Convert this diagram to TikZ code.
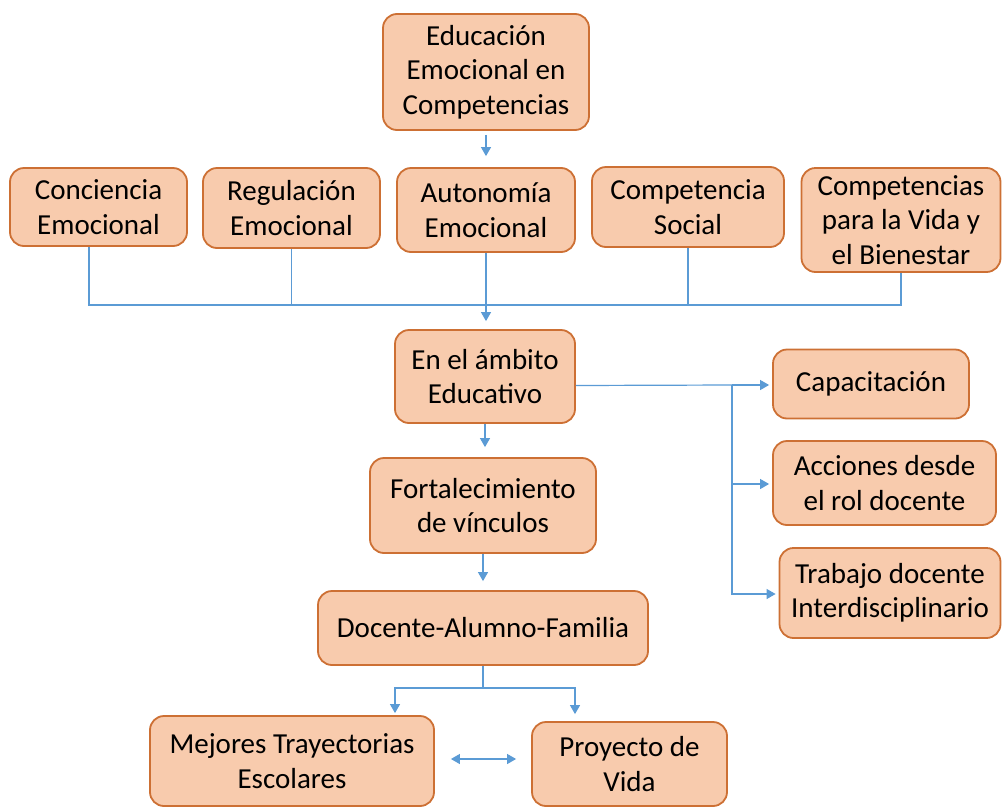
\documentclass[tikz,border=0pt]{standalone}
\usepackage{fontspec}
\setmainfont{Carlito}
\usetikzlibrary{arrows.meta}

\definecolor{boxfill}{HTML}{F8CBAD}
\definecolor{boxline}{RGB}{205,112,52}
\definecolor{linkblue}{HTML}{5B9BD5}

\tikzset{
	tema/.style={draw=boxline, fill=boxfill, line width=0.9pt, rounded corners=7pt,
		align=center, inner sep=0pt, font=\fontsize{14.5}{17.2}\selectfont},
	link/.style={draw=linkblue, line width=0.6pt},
	flecha/.style={link, -{Triangle[width=5pt,length=4.5pt]}},
	flechas/.style={link, {Triangle[width=5pt,length=4.5pt]}-{Triangle[width=5pt,length=4.5pt]}}
}

\begin{document}
\begin{tikzpicture}[x=0.5pt, y=-0.5pt]
			\useasboundingbox (0,0) rectangle (1002,809);
			
			\node[tema, minimum width=103pt, minimum height=58pt] (edu) at (486,72) {Educación\\Emocional en\\Competencias};
			
			\node[tema, minimum width=88.5pt, minimum height=39pt] (conc) at (98.5,207) {Conciencia\\Emocional};
			\node[tema, minimum width=88.5pt, minimum height=40pt] (regu) at (291.5,208) {Regulación\\Emocional};
			\node[tema, minimum width=89pt, minimum height=42pt] (auto) at (486,210) {Autonomía\\Emocional};
			\node[tema, minimum width=96pt, minimum height=40pt] (soc) at (688,207) {Competencia\\Social};
			\node[tema, minimum width=99.5pt, minimum height=52pt] (vida) at (901,220) {Competencias\\para la Vida y\\el Bienestar};
			
			\node[tema, minimum width=90pt, minimum height=46.5pt] (amb) at (485,376.5) {En el ámbito\\Educativo};
			\node[tema, minimum width=98pt, minimum height=34.5pt] (capa) at (871,384) {Capacitación};
			\node[tema, minimum width=111.5pt, minimum height=42pt] (acc) at (884.5,483) {Acciones desde\\el rol docente};
			\node[tema, minimum width=110.5pt, minimum height=45pt] (trab) at (890,593) {Trabajo docente\\Interdisciplinario};
			
			\node[tema, minimum width=113pt, minimum height=47.5pt] (fort) at (483,505.5) {Fortalecimiento\\de vínculos};
			\node[tema, minimum width=165pt, minimum height=37pt] (doc) at (483,628) {Docente-Alumno-Familia};
			
			\node[tema, minimum width=142pt, minimum height=45pt] (mej) at (292,761) {Mejores Trayectorias\\Escolares};
			\node[tema, minimum width=97.5pt, minimum height=42pt] (proy) at (629.5,764) {Proyecto de\\Vida};
			
			\coordinate (barra) at (486,305);
			\coordinate (rama) at (732,385);
			\coordinate (nudo) at (483,688);
			
			\draw[flecha, shorten <=2pt, shorten >=5.5pt] (edu) -- (auto);
			
			\draw[link] ([xshift=-4.75pt]conc.south) |- (barra) -| (vida.south);
			\draw[link] (regu.south) -- (regu.south |- barra);
			\draw[link] (soc.south) -- (soc.south |- barra);
			\draw[flecha, shorten >=4pt] (auto.south) -- (auto.south |- amb.north);
			
			\draw[link] ([yshift=-4.5pt]amb.east) -- (rama);
			\draw[flecha, shorten >=1.5pt] (rama) -- (capa.west |- rama);
			\draw[flecha, shorten >=1.5pt] (rama) |- ([yshift=-0.5pt]acc.west);
			\draw[flecha, shorten >=1.5pt] (rama) |- ([yshift=-0.5pt]trab.west);
			
			\draw[flecha, shorten >=5pt] (amb.south) -- (amb.south |- fort.north);
			\draw[flecha, shorten >=4.5pt] (fort) -- (doc);
			
			\draw[link] (doc.south) -- (nudo);
			\draw[flecha, shorten >=1pt] (nudo) -| ([xshift=51.5pt]mej.north);
			\draw[flecha, shorten >=3.5pt] (nudo) -| ([xshift=-27.25pt]proy.north);
			\draw[flechas, shorten <=8pt, shorten >=7.5pt] ([yshift=1pt]mej.east) -- ([yshift=1pt]mej.east -| proy.west);
			\end{tikzpicture}
\end{document}
